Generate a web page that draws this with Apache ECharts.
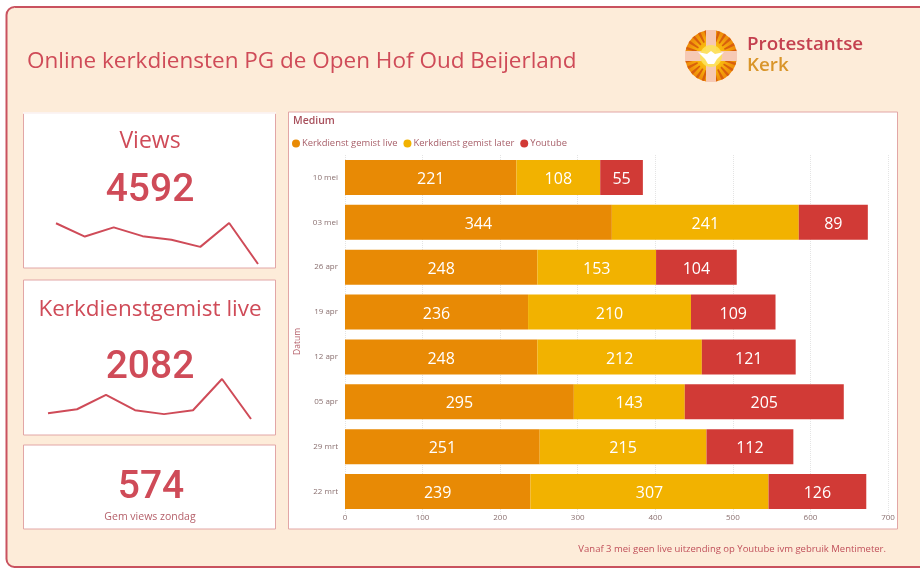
<!DOCTYPE html>
<html>
<head>
<meta charset="utf-8">
<style>
  html, body { margin: 0; padding: 0; background: #fff; }
  #chart { width: 920px; height: 569px; }
</style>
<script src="https://cdn.jsdelivr.net/npm/echarts@6/dist/echarts.min.js"></script>
</head>
<body>
<div id="chart"></div>
<script>
// oudste datum eerst, de as tekent die onderaan
const datums = ['22 mrt', '29 mrt', '05 apr', '12 apr', '19 apr', '26 apr', '03 mei', '10 mei']
const gemistLive = [239, 251, 295, 248, 236, 248, 344, 221]
const gemistLater = [307, 215, 143, 212, 210, 153, 241, 108]
const youtube = [126, 112, 205, 121, 109, 104, 89, 55]
const viewsPerDienst = [672, 578, 643, 581, 555, 505, 674, 384]
const xTicks = [0, 100, 200, 300, 400, 500, 600, 700]

const rood = '#cf4b58'
const font = '"Open Sans", sans-serif'
const cijferFont = 'Roboto, sans-serif'
const panelRand = '#e2a6a6'

const panel = (x, y, width, height) => ({
  type: 'rect', z: -1, silent: true,
  shape: { x, y, width, height },
  style: { fill: '#fff', stroke: panelRand, lineWidth: 1 }
})
const tekst = (x, y, text, size, fill, extra) => ({
  type: 'text', z: 1, silent: true, x, y,
  style: Object.assign({ text, fontSize: size, fill, fontFamily: font, align: 'center', verticalAlign: 'middle' }, extra)
})

// logo: oranje stralen, licht kruis, witte duif
const stralen = []
for (let i = 0; i < 24; i++) {
  const a = i * Math.PI / 12
  stralen.push({
    type: 'sector', z: 1, silent: true,
    shape: { cx: 711, cy: 56, r0: 15, r: 26, startAngle: a, endAngle: a + Math.PI / 30 },
    style: { fill: '#d9600c' }
  })
}
const logo = [
  {
    type: 'circle', z: 0, silent: true,
    shape: { cx: 711, cy: 56, r: 26 },
    style: {
      fill: {
        type: 'radial', x: 0.5, y: 0.5, r: 0.5,
        colorStops: [{ offset: 0, color: '#fff3a0' }, { offset: 0.35, color: '#fbc20e' }, { offset: 1, color: '#ee8a0a' }]
      }
    }
  },
  ...stralen,
  { type: 'rect', z: 2, silent: true, shape: { x: 706, y: 30, width: 10, height: 52 }, style: { fill: '#f6c9b4' } },
  { type: 'rect', z: 2, silent: true, shape: { x: 685, y: 51, width: 52, height: 10 }, style: { fill: '#f6c9b4' } },
  { type: 'circle', z: 3, silent: true, shape: { cx: 711, cy: 56, r: 11 }, style: { fill: '#fde25a', opacity: 0.9 } },
  { type: 'polygon', z: 4, silent: true, shape: { points: [[698, 52], [707, 54], [711, 51], [715, 54], [724, 52], [717, 59], [714, 64], [708, 64], [705, 59]] }, style: { fill: '#fff' } }
]

const option = {
  animation: false,
  backgroundColor: '#fff',
  textStyle: { fontFamily: font },
  graphic: [
    {
      type: 'rect', z: -2, silent: true,
      shape: { x: 6.5, y: 7, width: 940, height: 560, r: 8 },
      style: { fill: '#fdecd9', stroke: '#c9525f', lineWidth: 2 }
    },
    panel(23.5, 113, 252, 155),
    // bovenrand van het eerste vak ontbreekt in het origineel
    { type: 'line', z: -1, silent: true, shape: { x1: 23, y1: 113, x2: 276, y2: 113 }, style: { stroke: '#fff', lineWidth: 1.5 } },
    panel(23.5, 280, 252, 155),
    panel(23.5, 445, 252, 84),
    panel(288.5, 112, 609, 417),
    tekst(27, 62, 'Online kerkdiensten PG de Open Hof Oud Beijerland', 22.5, rood, { align: 'left' }),
    ...logo,
    tekst(747, 45, 'Protestantse', 18.8, '#c4404f', { align: 'left', fontWeight: 600 }),
    tekst(747, 66, 'Kerk', 18.8, '#d9952a', { align: 'left', fontWeight: 600 }),
    tekst(150, 141, 'Views', 23, rood),
    tekst(150, 191, '4592', 39, rood, { fontFamily: cijferFont, fontWeight: 500 }),
    tekst(150, 310, 'Kerkdienstgemist live', 22.5, rood),
    tekst(150, 368, '2082', 39, rood, { fontFamily: cijferFont, fontWeight: 500 }),
    tekst(151, 488, '574', 39, rood, { fontFamily: cijferFont, fontWeight: 500 }),
    tekst(150, 517, 'Gem views zondag', 10.5, '#b5606a'),
    tekst(293, 121, 'Medium', 10.5, '#a8505c', { align: 'left', fontWeight: 600 }),
    tekst(886, 549, 'Vanaf 3 mei geen live uitzending op Youtube ivm gebruik Mentimeter.', 9.5, '#c0505a', { align: 'right' })
  ],
  legend: {
    left: 292, top: 139, padding: 0,
    itemWidth: 8, itemHeight: 8, itemGap: 6, icon: 'circle',
    textStyle: { fontSize: 9.4, color: '#a8606a', padding: [0, 0, 0, -3] },
    data: ['Kerkdienst gemist live', 'Kerkdienst gemist later', 'Youtube']
  },
  grid: [
    { left: 345, top: 155, width: 543, height: 359 },
    { left: 56, top: 223, width: 202, height: 41 },
    { left: 48, top: 379, width: 203, height: 40 }
  ],
  xAxis: [
    {
      type: 'value', gridIndex: 0, min: 0, max: 700, interval: 100,
      axisLine: { show: false }, axisTick: { show: false },
      axisLabel: { fontSize: 8, color: '#8a7070', margin: 0, customValues: xTicks },
      splitLine: { lineStyle: { type: 'dotted', color: '#e4e4e4' } }
    },
    { type: 'category', gridIndex: 1, data: datums, boundaryGap: false, show: false },
    { type: 'category', gridIndex: 2, data: datums, boundaryGap: false, show: false }
  ],
  yAxis: [
    {
      type: 'category', gridIndex: 0, data: datums,
      name: 'Datum', nameLocation: 'middle', nameGap: 41, nameRotate: 90,
      nameTextStyle: { fontSize: 8.5, color: '#b5606a', padding: [0, 14, 0, 0] },
      axisLine: { show: false }, axisTick: { show: false },
      axisLabel: { fontSize: 8, color: '#8a7070', margin: 7 }
    },
    { type: 'value', gridIndex: 1, min: 384, max: 674, show: false },
    { type: 'value', gridIndex: 2, min: 221, max: 344, show: false }
  ],
  series: [
    ['Kerkdienst gemist live', gemistLive, '#e88a05'],
    ['Kerkdienst gemist later', gemistLater, '#f2b200'],
    ['Youtube', youtube, '#d13a36']
  ].map(([name, data, color]) => ({
    name, data, type: 'bar', stack: 'medium', barWidth: 35,
    xAxisIndex: 0, yAxisIndex: 0,
    itemStyle: { color },
    label: { show: true, position: 'inside', offset: [0, 2], color: '#fff', fontSize: 16 }
  })).concat([
    {
      type: 'line', xAxisIndex: 1, yAxisIndex: 1, data: viewsPerDienst,
      symbol: 'none', lineStyle: { color: rood, width: 2 }
    },
    {
      type: 'line', xAxisIndex: 2, yAxisIndex: 2, data: gemistLive,
      symbol: 'none', lineStyle: { color: rood, width: 2 }
    }
  ])
}

const myChart = echarts.init(document.getElementById('chart'))
myChart.setOption(option)
</script>
</body>
</html>
